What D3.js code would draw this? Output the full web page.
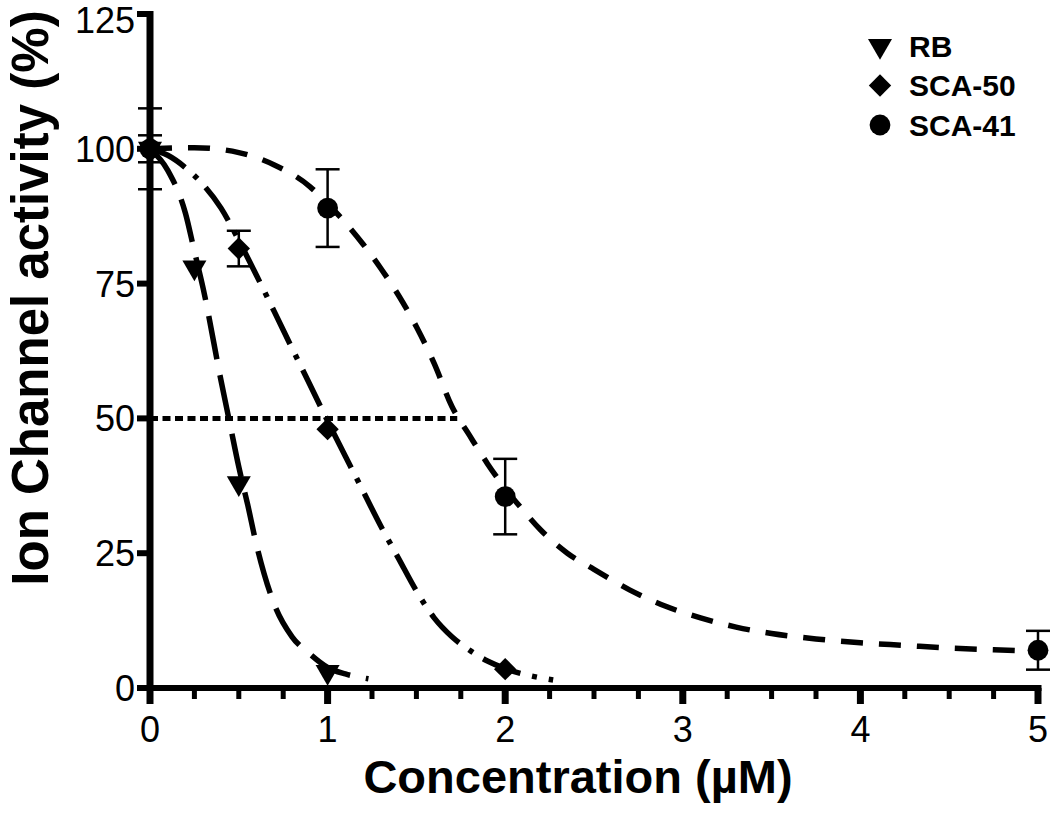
<!DOCTYPE html>
<html>
<head>
<meta charset="utf-8">
<script src="https://cdn.jsdelivr.net/npm/d3@7"></script>
<style>
  html, body { margin: 0; padding: 0; background: #fff; }
  svg text { font-family: "Liberation Sans", Arial, sans-serif; fill: #000; }
</style>
</head>
<body>
<svg id="chart" width="1050" height="834"></svg>
<script>
// ---------- data ----------
const xTicks = [0, 1, 2, 3, 4, 5];
const yTicks = [0, 25, 50, 75, 100, 125];
const seriesNames = ["RB", "SCA-50", "SCA-41"];

const rbX = [0, 0.25, 0.5, 1];
const rbY = [100, 78, 38, 3];
const rbErr = [0, 0, 0, 0];

const sca50X = [0, 0.5, 1, 2];
const sca50Y = [100, 81.5, 48, 3.5];
const sca50Err = [2.5, 3.3, 0, 0];

const sca41X = [0, 1, 2, 5];
const sca41Y = [100, 89, 35.5, 7];
const sca41Err = [7.5, 7.2, 7, 3.6];

// fitted curves
const rbCurveX = [0, 0.1, 0.2, 0.25, 0.3, 0.4, 0.45, 0.5, 0.55, 0.6, 0.7, 0.8, 0.9, 1.0, 1.1, 1.23];
const rbCurveY = [100, 96, 88, 81, 74, 57, 49, 41, 34, 26.5, 15.5, 9.5, 6.3, 3.8, 2.6, 1.7];

const sca50CurveX = [0, 0.1, 0.2, 0.3, 0.4, 0.5, 0.6, 0.7, 0.8, 0.9, 1.0, 1.1, 1.2, 1.3, 1.4, 1.5, 1.6, 1.7, 1.8, 1.9, 2.0, 2.1, 2.27];
const sca50CurveY = [100, 98.8, 96.5, 93.3, 89, 83, 76.5, 69.8, 63, 56.3, 49.5, 43, 36.5, 30, 24, 18, 13, 9.5, 7, 5, 3.6, 2.6, 1.5];

const sca41CurveX = [0, 0.25, 0.5, 0.7, 0.9, 1.0, 1.1, 1.2, 1.3, 1.4, 1.5, 1.6, 1.7, 1.8, 1.9, 2.0, 2.1, 2.2, 2.35, 2.5, 2.7, 2.9, 3.1, 3.3, 3.5, 3.75, 4.0, 4.25, 4.5, 4.75, 5.0];
const sca41CurveY = [100, 100.2, 99.3, 97, 93, 89.8, 86.3, 82.3, 77.8, 72.8, 67, 60.2, 52.2, 46.8, 41.6, 37, 33, 29.3, 25, 22, 18.2, 15.2, 13, 11.3, 10.1, 9.1, 8.4, 7.9, 7.4, 7.1, 6.8];

const ic50X = [0, 1.73];
const ic50Y = [50, 50];

// ---------- layout ----------
const svg = d3.select("#chart");
const x = d3.scaleLinear().domain([0, 5]).range([150, 1038]);
const y = d3.scaleLinear().domain([0, 125]).range([688, 14]);

// ---------- curves ----------
const line = d3.line().x(d => x(d[0])).y(d => y(d[1])).curve(d3.curveMonotoneX);
const zip = (a, b) => a.map((v, i) => [v, b[i]]);

svg.append("path").datum(zip(ic50X, ic50Y)).attr("d", d3.line().x(d => x(d[0])).y(d => y(d[1])))
  .attr("fill", "none").attr("stroke", "#000").attr("stroke-width", 5).attr("stroke-dasharray", "8,4.5");

svg.append("path").datum(zip(rbCurveX, rbCurveY)).attr("d", line)
  .attr("fill", "none").attr("stroke", "#000").attr("stroke-width", 5.5).attr("stroke-dasharray", "44,16");

svg.append("path").datum(zip(sca50CurveX, sca50CurveY)).attr("d", line)
  .attr("fill", "none").attr("stroke", "#000").attr("stroke-width", 5.5).attr("stroke-dasharray", "40,12,5,12");

svg.append("path").datum(zip(sca41CurveX, sca41CurveY)).attr("d", line)
  .attr("fill", "none").attr("stroke", "#000").attr("stroke-width", 5.5).attr("stroke-dasharray", "22,16");

// ---------- error bars ----------
function errBars(xs, ys, es) {
  const g = svg.append("g").attr("stroke", "#000").attr("stroke-width", 2.5);
  xs.forEach((xv, i) => {
    if (!es[i]) return;
    const cx = x(xv), y1 = y(ys[i] + es[i]), y2 = y(ys[i] - es[i]);
    g.append("line").attr("x1", cx).attr("x2", cx).attr("y1", y1).attr("y2", y2);
    g.append("line").attr("x1", cx - 12).attr("x2", cx + 12).attr("y1", y1).attr("y2", y1);
    g.append("line").attr("x1", cx - 12).attr("x2", cx + 12).attr("y1", y2).attr("y2", y2);
  });
}
errBars(rbX, rbY, rbErr);
errBars(sca50X, sca50Y, sca50Err);
errBars(sca41X, sca41Y, sca41Err);

// ---------- markers ----------
const triSym = d3.symbol().type(d3.symbolTriangle).size(250);
const diaSym = d3.symbol().type(d3.symbolSquare).size(250);
const cirSym = d3.symbol().type(d3.symbolCircle).size(340);

function markers(xs, ys, sym, rot) {
  xs.forEach((xv, i) => {
    svg.append("path").attr("d", sym())
      .attr("transform", `translate(${x(xv)},${y(ys[i])}) rotate(${rot})`)
      .attr("fill", "#000");
  });
}
markers(sca41X, sca41Y, cirSym, 0);
markers(sca50X, sca50Y, diaSym, 45);
markers(rbX, rbY, triSym, 180);

// ---------- axes ----------
const xMinor = d3.range(0, 5.001, 0.25).filter(v => Math.abs(v - Math.round(v)) > 1e-6);
const gx = svg.append("g");
gx.selectAll("line.minor").data(xMinor).join("line")
  .attr("x1", d => x(d)).attr("x2", d => x(d)).attr("y1", 688).attr("y2", 699)
  .attr("stroke", "#000").attr("stroke-width", 5);
gx.selectAll("line.major").data(xTicks).join("line")
  .attr("x1", d => x(d)).attr("x2", d => x(d)).attr("y1", 688).attr("y2", 704)
  .attr("stroke", "#000").attr("stroke-width", 7);
gx.append("line").attr("x1", x(0) - 4).attr("x2", x(5) + 3.5).attr("y1", 688).attr("y2", 688)
  .attr("stroke", "#000").attr("stroke-width", 6);
gx.selectAll("text").data(xTicks).join("text")
  .attr("x", d => x(d)).attr("y", 742).attr("text-anchor", "middle")
  .attr("font-size", 36).text(d => d);

const gy = svg.append("g");
gy.selectAll("line.tick").data(yTicks).join("line")
  .attr("x1", x(0) - 13).attr("x2", x(0)).attr("y1", d => y(d)).attr("y2", d => y(d))
  .attr("stroke", "#000").attr("stroke-width", 6);
gy.append("line").attr("x1", x(0)).attr("x2", x(0)).attr("y1", y(125) - 3).attr("y2", 691)
  .attr("stroke", "#000").attr("stroke-width", 7);
gy.selectAll("text").data(yTicks).join("text")
  .attr("x", x(0) - 15).attr("y", d => y(d)).attr("dy", d => d === 125 ? "0.52em" : "0.36em")
  .attr("text-anchor", "end").attr("font-size", 36).text(d => d);

// ---------- titles ----------
svg.append("text").attr("x", 578).attr("y", 793).attr("text-anchor", "middle")
  .attr("font-size", 47).attr("font-weight", "bold").text("Concentration (µM)");
svg.append("text").attr("transform", "translate(48,298) rotate(-90)").attr("text-anchor", "middle")
  .attr("font-size", 51).attr("font-weight", "bold").text("Ion Channel activity (%)");

// ---------- legend ----------
const legSyms = [[triSym, 180], [diaSym, 45], [cirSym, 0]];
const lg = svg.append("g");
seriesNames.forEach((name, i) => {
  const ly = 46 + i * 39.5;
  lg.append("path").attr("d", legSyms[i][0]())
    .attr("transform", `translate(880,${ly}) rotate(${legSyms[i][1]})`).attr("fill", "#000");
  lg.append("text").attr("x", 909).attr("y", ly).attr("dy", "0.36em")
    .attr("font-size", 30).attr("font-weight", "bold").text(name);
});
</script>
</body>
</html>
